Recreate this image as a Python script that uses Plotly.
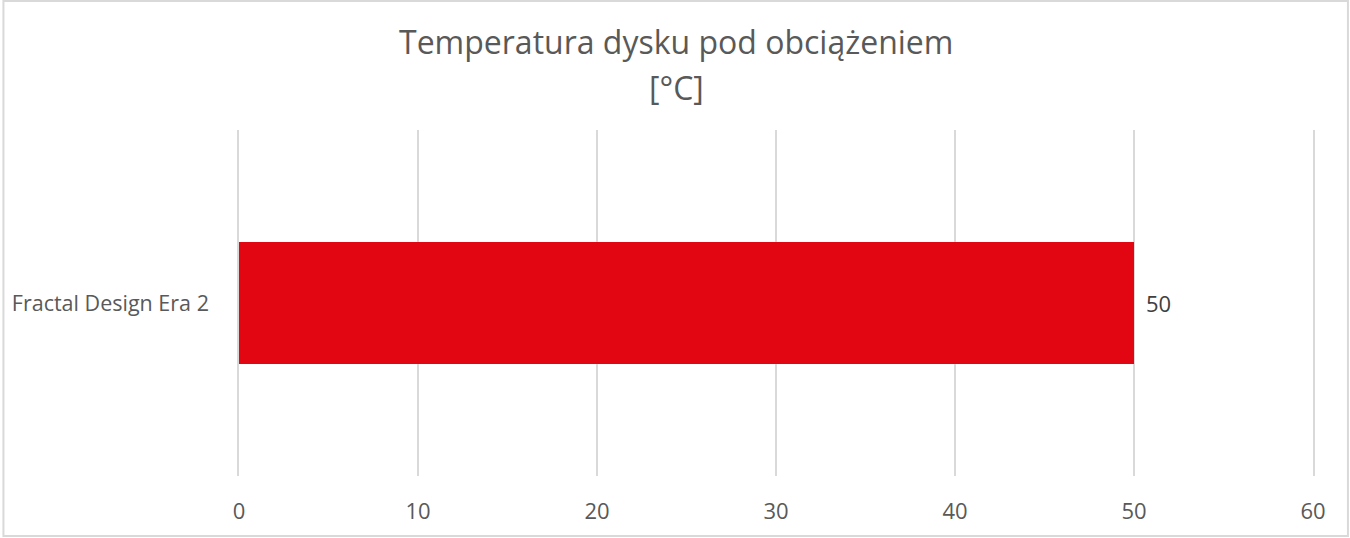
import plotly.graph_objects as go

categories = ["Fractal Design Era 2"]
values = [50]
tick_vals = [0, 10, 20, 30, 40, 50, 60]
title_lines = ["Temperatura dysku pod obciążeniem", "[°C]"]

W, H = 1350, 538
L, R, T, B = 237, 37, 130, 62
pw, ph = W - L - R, H - T - B
FONT = "Open Sans, Liberation Sans, sans-serif"

fig = go.Figure(go.Bar(
    x=values, y=categories, orientation="h",
    marker=dict(color="#E20613", line=dict(width=0)),
    width=0.353,
    hoverinfo="skip",
))

annotations = [dict(
    x=v, y=c, xref="x", yref="y", text=str(v), showarrow=False,
    xanchor="left", yanchor="middle", xshift=10,
    font=dict(family=FONT, size=22, color="#404040"),
) for c, v in zip(categories, values)]

for text, py in zip(title_lines, [41, 87]):
    annotations.append(dict(
        x=(W / 2 - L) / pw, y=(H - B - py) / ph, xref="paper", yref="paper",
        text=text, showarrow=False, xanchor="center", yanchor="middle",
        font=dict(family=FONT, size=32, color="#595959"),
    ))

fig.update_layout(
    width=W, height=H,
    margin=dict(l=L, r=R, t=T, b=B),
    paper_bgcolor="white", plot_bgcolor="white",
    xaxis=dict(
        range=[0, 60], tickvals=tick_vals, showgrid=True,
        gridcolor="#D9D9D9", gridwidth=1.5, zeroline=False, showline=False,
        ticks="", ticklabelstandoff=20,
        tickfont=dict(family=FONT, size=22, color="#595959"),
    ),
    yaxis=dict(
        range=[-0.5, 0.5], showgrid=False, zeroline=False,
        showline=True, mirror=True, linecolor="#D9D9D9", linewidth=1.5, ticks="",
        ticklabelstandoff=24,
        tickfont=dict(family=FONT, size=21.5, color="#595959"),
    ),
    showlegend=False,
    annotations=annotations,
    shapes=[dict(
        type="rect", xref="paper", yref="paper",
        x0=(1 - L) / pw, x1=(W - 2 - L) / pw,
        y0=(H - B - (H - 2)) / ph, y1=(H - B - 1) / ph,
        line=dict(color="#D9D9D9", width=2), fillcolor="rgba(0,0,0,0)", layer="below",
    )],
)

fig.write_html("out.html", config={"displayModeBar": False},
               post_script="document.body.style.margin='0';")
